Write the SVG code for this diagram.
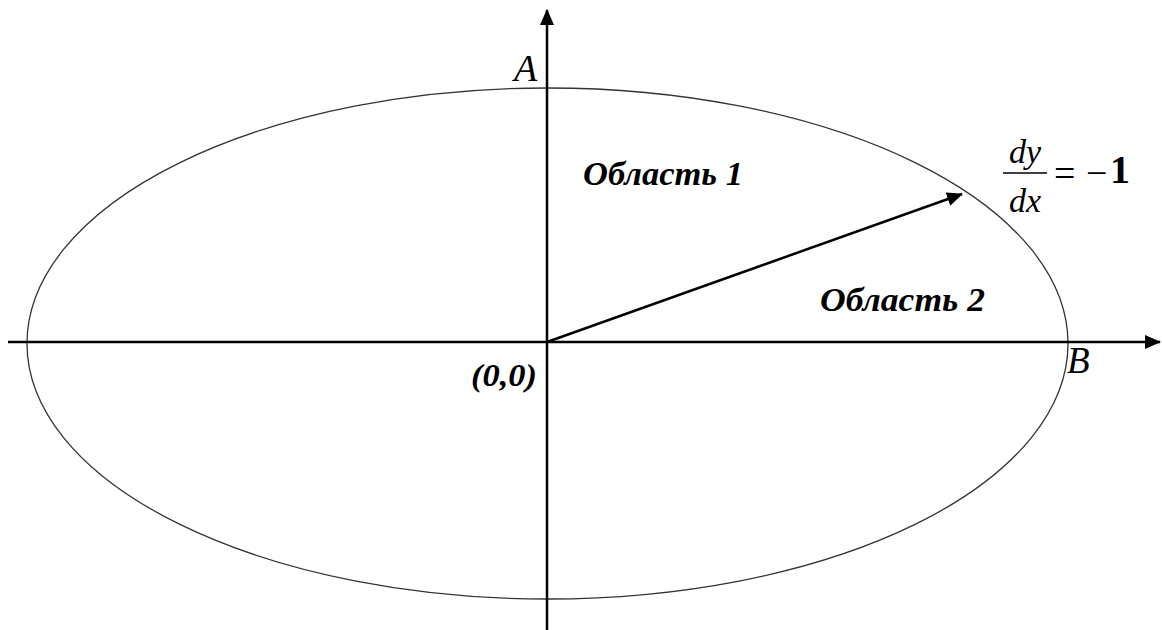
<svg xmlns="http://www.w3.org/2000/svg" width="1162" height="630" viewBox="0 0 1162 630">
<style>
.ax{stroke:#000;stroke-width:2.5;fill:none}
.el{stroke:#333;stroke-width:1.3;fill:none}
text{font-family:'Liberation Serif','Times New Roman','DejaVu Serif',serif;fill:#000}
.it{font-style:italic}
.bi{font-style:italic;font-weight:bold}
</style>
<defs>
<marker id="ah" markerWidth="16" markerHeight="14" refX="15" refY="7" orient="auto" markerUnits="userSpaceOnUse">
<path d="M0,0 L16,7 L0,14 Z" fill="#000"/>
</marker>
</defs>
<rect width="1162" height="630" fill="#fff"/>
<g id="ellipse"><ellipse class="el" cx="547.5" cy="343.5" rx="520.5" ry="255.5"/></g>
<g id="connectors">
<line class="ax" x1="8" y1="342" x2="1160" y2="342" marker-end="url(#ah)"/>
<line class="ax" x1="547" y1="630" x2="547" y2="10" marker-end="url(#ah)"/>
<line class="ax" x1="547" y1="342" x2="962" y2="194" marker-end="url(#ah)"/>
</g>
<g id="labelA"><text class="it" x="514" y="81" font-size="38">A</text></g>
<g id="labelB"><text class="it" x="1067" y="373" font-size="37">B</text></g>
<g id="origin"><text class="bi" x="471" y="386" font-size="31" textLength="66" lengthAdjust="spacingAndGlyphs">(0,0)</text></g>
<g id="region1"><text class="bi" x="583" y="185" font-size="33" textLength="160" lengthAdjust="spacingAndGlyphs">Область 1</text></g>
<g id="region2"><text class="bi" x="820" y="311" font-size="33" textLength="165" lengthAdjust="spacingAndGlyphs">Область 2</text></g>
<g id="derivative">
<text class="it" x="1025" y="163" font-size="34" text-anchor="middle">dy</text>
<line x1="1003" y1="173" x2="1047" y2="173" stroke="#000" stroke-width="1.5"/>
<text class="it" x="1025" y="212" font-size="34" text-anchor="middle">dx</text>
<text x="1054" y="186" font-size="38">=</text>
<text x="1086" y="186" font-size="38">−</text>
<text x="1110" y="183" font-size="40" font-weight="bold">1</text>
</g>
</svg>
